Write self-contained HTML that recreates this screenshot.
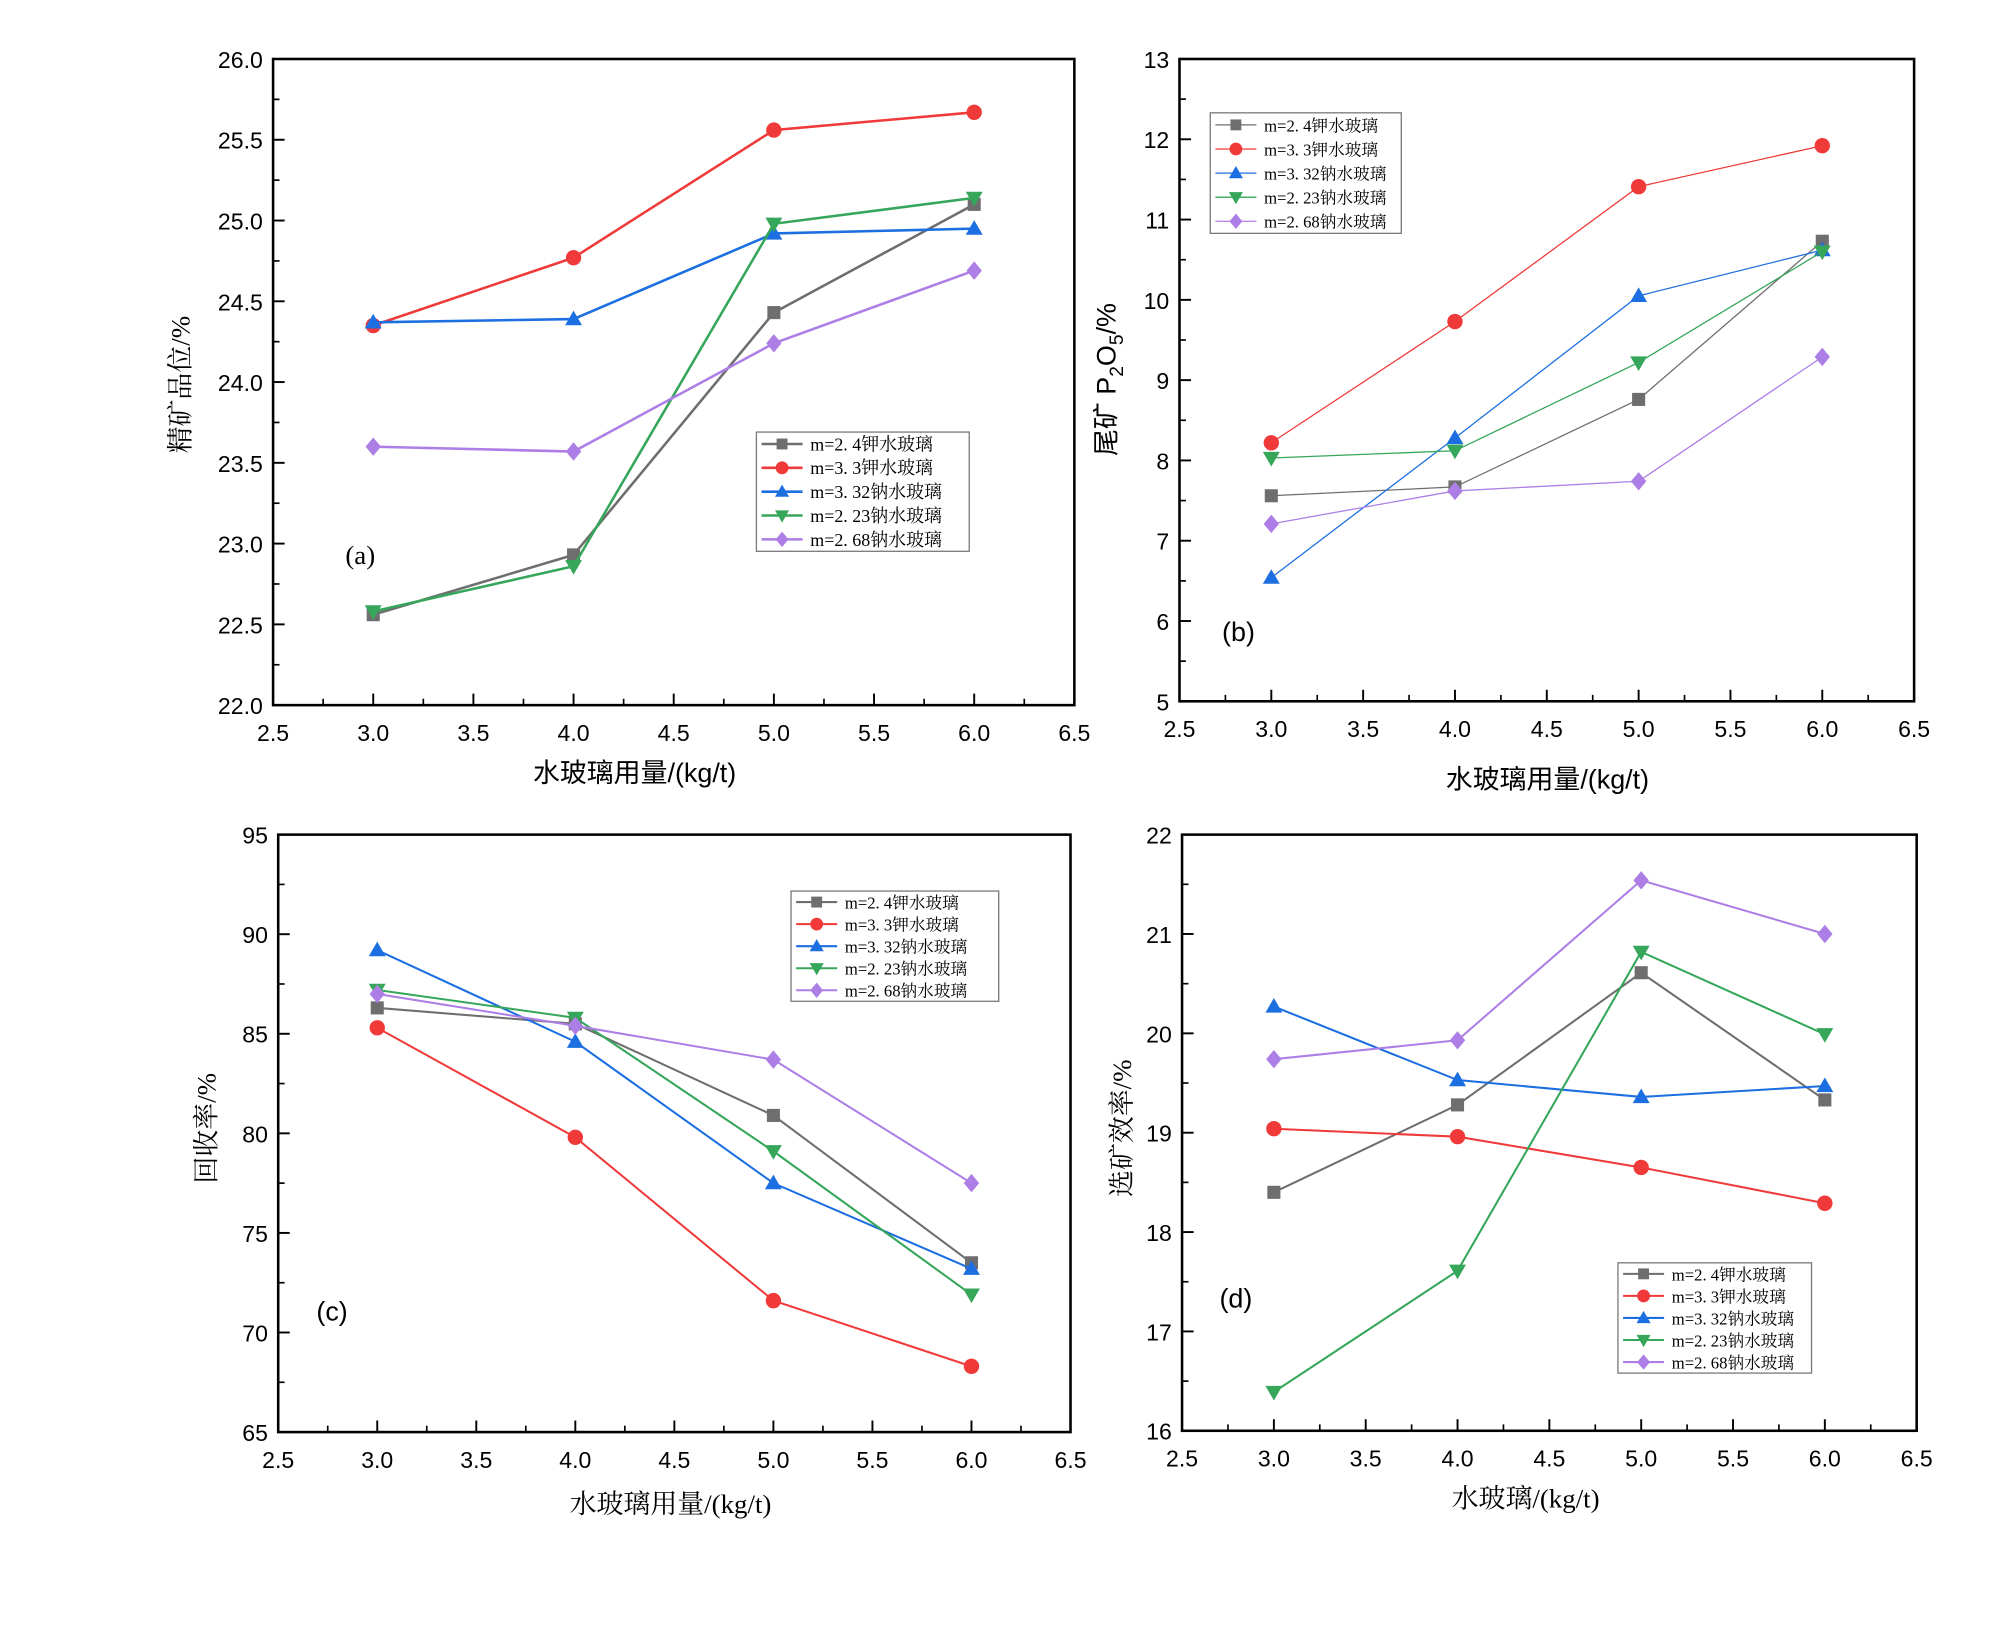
<!DOCTYPE html>
<html><head><meta charset="utf-8"><style>
html,body{margin:0;padding:0;background:#fff;}
svg{display:block;}
</style></head><body>
<svg id="fig" width="2000" height="1629" viewBox="0 0 1560 1270.6" xmlns="http://www.w3.org/2000/svg"></svg>
<script>
const seriesNames = ["m=2.4钾水玻璃","m=3.3钾水玻璃","m=3.32钠水玻璃","m=2.23钠水玻璃","m=2.68钠水玻璃"];
const legendNames = ["m=2. 4钾水玻璃","m=3. 3钾水玻璃","m=3. 32钠水玻璃","m=2. 23钠水玻璃","m=2. 68钠水玻璃"];
const xCats = [3.0, 4.0, 5.0, 6.0];
const xTicks = [2.5,3.0,3.5,4.0,4.5,5.0,5.5,6.0,6.5];
// panel a
const aGray = [22.56, 22.93, 24.43, 25.10];
const aRed = [24.35, 24.77, 25.56, 25.67];
const aBlue = [24.37, 24.39, 24.92, 24.95];
const aGreen = [22.58, 22.86, 24.98, 25.14];
const aPurple = [23.60, 23.57, 24.24, 24.69];
const aYTicks = [22.0,22.5,23.0,23.5,24.0,24.5,25.0,25.5,26.0];
// panel b
const bGray = [7.56, 7.67, 8.76, 10.73];
const bRed = [8.22, 9.73, 11.41, 11.92];
const bBlue = [6.54, 8.28, 10.05, 10.62];
const bGreen = [8.03, 8.12, 9.22, 10.60];
const bPurple = [7.21, 7.62, 7.74, 9.29];
const bYTicks = [5,6,7,8,9,10,11,12,13];
// panel c
const cGray = [86.3, 85.5, 80.9, 73.5];
const cRed = [85.3, 79.8, 71.6, 68.3];
const cBlue = [89.2, 84.6, 77.5, 73.2];
const cGreen = [87.2, 85.8, 79.1, 71.9];
const cPurple = [87.0, 85.4, 83.7, 77.5];
const cYTicks = [65,70,75,80,85,90,95];
// panel d
const dGray = [18.40, 19.28, 20.61, 19.33];
const dRed = [19.04, 18.96, 18.65, 18.29];
const dBlue = [20.27, 19.53, 19.36, 19.47];
const dGreen = [16.39, 17.61, 20.82, 19.99];
const dPurple = [19.74, 19.93, 21.54, 21.00];
const dYTicks = [16,17,18,19,20,21,22];

const colors = ["#6e6e6e","#f03a3a","#1c6fe0","#35a65a","#ad7fe6"];
const shapes = ["square","circle","up","down","diamond"];
const NS = "http://www.w3.org/2000/svg";
const svg = document.getElementById("fig");
function mk(tag, attrs, parent){const e=document.createElementNS(NS,tag);for(const k in attrs)e.setAttribute(k,attrs[k]);(parent||svg).appendChild(e);return e;}
function marker(g, shape, x, y, r, color){
  let e;
  if(shape==="square") e=mk("rect",{x:x-r*0.85,y:y-r*0.85,width:r*1.7,height:r*1.7,fill:color},g);
  else if(shape==="circle") e=mk("circle",{cx:x,cy:y,r:r,fill:color},g);
  else if(shape==="up") e=mk("polygon",{points:`${x},${y-r*1.1} ${x-r*1.1},${y+r*0.8} ${x+r*1.1},${y+r*0.8}`,fill:color},g);
  else if(shape==="down") e=mk("polygon",{points:`${x},${y+r*1.1} ${x-r*1.1},${y-r*0.8} ${x+r*1.1},${y-r*0.8}`,fill:color},g);
  else e=mk("polygon",{points:`${x},${y-r*1.2} ${x+r*1.0},${y} ${x},${y+r*1.2} ${x-r*1.0},${y}`,fill:color},g);
  return e;
}
function panel(p){
  const g=mk("g",{});
  
  
  const X=v=>p.L+(v-2.5)/(4)*(p.R-p.L);
  const Y=v=>p.B-(v-p.ymin)/(p.ymax-p.ymin)*(p.B-p.T);
  const frame=mk("rect",{x:p.L,y:p.T,width:p.R-p.L,height:p.B-p.T,fill:"none",stroke:"#000","stroke-width":2},g);
  
  
  const xt=mk("g",{},g);
  
  
  xTicks.forEach((v,i)=>{
    mk("line",{x1:X(v),x2:X(v),y1:p.B,y2:p.B-9,stroke:"#000","stroke-width":1.5},xt);
    if(i<xTicks.length-1){const m=X(v+0.25);mk("line",{x1:m,x2:m,y1:p.B,y2:p.B-5,stroke:"#000","stroke-width":1.3},xt);}
    const t=mk("text",{x:X(v),y:p.B+28,"text-anchor":"middle","font-size":18,"font-family":"Liberation Sans, sans-serif"},xt);
    t.textContent=v.toFixed(1);
  });
  const yt=mk("g",{},g);
  
  
  p.yticks.forEach((v,i)=>{
    mk("line",{x1:p.L,x2:p.L+9,y1:Y(v),y2:Y(v),stroke:"#000","stroke-width":1.5},yt);
    if(i<p.yticks.length-1){const mv=(v+p.yticks[i+1])/2;mk("line",{x1:p.L,x2:p.L+5,y1:Y(mv),y2:Y(mv),stroke:"#000","stroke-width":1.3},yt);}
    const t=mk("text",{x:p.L-8,y:Y(v)+7,"text-anchor":"end","font-size":18,"font-family":"Liberation Sans, sans-serif"},yt);
    t.textContent=p.fmt(v);
  });
  p.data.forEach((arr,si)=>{
    const sg=mk("g",{},g);
    
    
    mk("polyline",{points:arr.map((v,i)=>X(xCats[i])+","+Y(v)).join(" "),fill:"none",stroke:colors[si],"stroke-width":p.lw},sg);
    arr.forEach((v,i)=>{const m=marker(sg,shapes[si],X(xCats[i]),Y(v),6,colors[si]);
      
      });
  });
  const lg=mk("g",{},g);
  
  
  const lb=p.leg;
  mk("rect",{x:lb[0],y:lb[1],width:lb[2],height:lb[3],fill:"#fff",stroke:"#777","stroke-width":1},lg);
  const rh=lb[3]/5;
  legendNames.forEach((n,i)=>{
    const cy=lb[1]+rh*(i+0.5);
    mk("line",{x1:lb[0]+4,x2:lb[0]+36,y1:cy,y2:cy,stroke:colors[i],"stroke-width":p.lw},lg);
    marker(lg,shapes[i],lb[0]+20,cy,5,colors[i]);
    const t=mk("text",{x:lb[0]+42,y:cy+5,"font-size":p.lfs,"font-family":"Liberation Serif, Noto Serif CJK SC, serif"},lg);
    t.textContent=n;
  });
  const pl=mk("text",{x:p.plab[0],y:p.plab[1],"font-size":21,"font-family":p.plabSerif?"Liberation Serif, serif":"Liberation Sans, sans-serif","text-anchor":"middle"},g);
  pl.textContent=p.plab[2];
  
  
  const xl=mk("text",{x:p.xt[0],y:p.xt[1],"text-anchor":"middle","font-size":21,"font-family":p.xtFont},g);
  xl.textContent=p.xt[2];
  
  
  const yl=mk("text",{x:0,y:0,"text-anchor":"middle","font-size":21,"font-family":p.ytFont,transform:`translate(${p.yt[0]},${p.yt[1]}) rotate(-90)`},g);
  yl.innerHTML=p.yt[2];
  
  
}
const sans='Liberation Sans, Noto Sans CJK SC, sans-serif';
const serif='Liberation Serif, Noto Serif CJK SC, serif';
panel({name:"panel-a",L:213,R:838,T:46,B:550,ymin:22,ymax:26,yticks:aYTicks,fmt:v=>v.toFixed(1),
  data:[aGray,aRed,aBlue,aGreen,aPurple],lw:2,leg:[590,337,166,93],lfs:14,
  plab:[281,440,"(a)"],plabSerif:true,xt:[495,610,"水玻璃用量/(kg/t)"],xtFont:sans,yt:[148,300,"精矿品位/%"],ytFont:serif});
panel({name:"panel-b",L:920,R:1493,T:46,B:547,ymin:5,ymax:13,yticks:bYTicks,fmt:v=>String(v),
  data:[bGray,bRed,bBlue,bGreen,bPurple],lw:1,leg:[944,88,149,94],lfs:13,
  plab:[966,500,"(b)"],plabSerif:false,xt:[1207,615,"水玻璃用量/(kg/t)"],xtFont:sans,yt:[870,296,'尾矿 P<tspan font-size="15" dy="6">2</tspan><tspan dy="-6">O</tspan><tspan font-size="15" dy="6">5</tspan><tspan dy="-6">/%</tspan>'],ytFont:sans});
panel({name:"panel-c",L:217,R:835,T:651,B:1117,ymin:65,ymax:95,yticks:cYTicks,fmt:v=>String(v),
  data:[cGray,cRed,cBlue,cGreen,cPurple],lw:1.6,leg:[617,695,162,86],lfs:13,
  plab:[259,1030,"(c)"],plabSerif:false,xt:[523,1180,"水玻璃用量/(kg/t)"],xtFont:serif,yt:[168,880,"回收率/%"],ytFont:serif});
panel({name:"panel-d",L:922,R:1495,T:651,B:1116,ymin:16,ymax:22,yticks:dYTicks,fmt:v=>String(v),
  data:[dGray,dRed,dBlue,dGreen,dPurple],lw:1.6,leg:[1262,985,151,86],lfs:13,
  plab:[964,1020,"(d)"],plabSerif:false,xt:[1190,1176,"水玻璃/(kg/t)"],xtFont:serif,yt:[882,880,"选矿效率/%"],ytFont:serif});
</script>
</body></html>
